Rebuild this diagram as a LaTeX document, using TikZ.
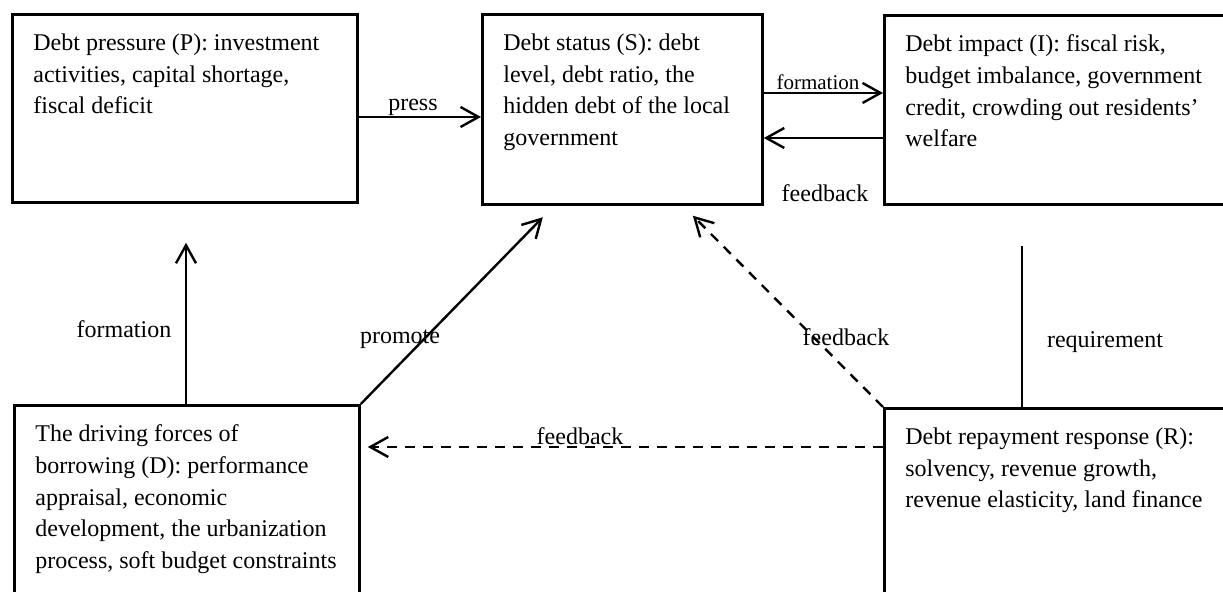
\documentclass[tikz,border=0pt]{standalone}
\usepackage{fontspec}
\setmainfont{Liberation Serif}
\usetikzlibrary{arrows.meta}

% box text: width, box height, lines
\newcommand{\boxtext}[3]{\parbox[t][\dimexpr#2-19.6pt\relax][t]{#1}{\raggedright\leftskip=10.5pt #3}}

\tikzset{
  block/.style={draw, line width=1.4pt, anchor=north west,
                inner xsep=0pt, inner ysep=9.8pt,
                font=\fontsize{12}{15.8}\selectfont},
  conn/.style={line width=1.2pt, -{Straight Barb[length=9pt,width=10pt]}},
  dconn/.style={conn, dash pattern=on 5pt off 4pt},
  lbl/.style={font=\fontsize{12}{14}\selectfont, anchor=base, inner sep=0pt},
}

\begin{document}
\begin{tikzpicture}[x=0.5pt, y=-0.5pt]
\useasboundingbox (0,0) rectangle (1223,592);
\clip (0,0) rectangle (1223,592);

% ===== BOXES =====
\node[block] (P) at (11,13) {\boxtext{172.5pt}{94pt}{Debt pressure (P): investment\\
  activities, capital shortage,\\fiscal deficit}};

\node[block] (S) at (481,13) {\boxtext{140pt}{95pt}{Debt status (S): debt\\
  level, debt ratio, the\\hidden debt of the local\\government}};

\node[block] (I) at (883,14) {\boxtext{180pt}{94.5pt}{Debt impact (I): fiscal risk,\\
  budget imbalance, government\\credit, crowding out residents’\\welfare}};

\node[block] (D) at (13,404) {\boxtext{172.5pt}{100pt}{The driving forces of\\
  borrowing (D): performance\\appraisal, economic\\development, the urbanization\\
  process, soft budget constraints}};

\node[block] (R) at (883,407) {\boxtext{180pt}{100pt}{Debt repayment response (R):\\
  solvency, revenue growth,\\revenue elasticity, land finance}};

% ===== CONNECTORS =====
\draw[conn] (P.east |- 0,117) -- (S.west |- 0,117);
\draw[conn] (S.east |- 0,93) -- (I.west |- 0,93);
\draw[conn] (I.west |- 0,138) -- (S.east |- 0,138);
\draw[conn, shorten >=19.5pt] (D.north -| 186,0) -- (P.south -| 186,0);
\draw[conn, shorten >=8pt] (D.north east) -- (S.south -| 554,0);
\draw[dconn, shorten >=7pt] (R.north west) -- (S.south -| 683,0);
\draw[dconn, shorten >=3.5pt] (R.west |- 0,447) -- (D.east |- 0,447);
\draw[line width=1.2pt, shorten >=20pt] (R.north -| 1022,0) -- (I.south -| 1022,0);

% ===== LABELS =====
\node[lbl] (lpress) at (413,111) {press};
\node[lbl, font=\fontsize{10.5}{12}\selectfont] (lform1) at (818,90) {formation};
\node[lbl] (lfb1) at (825,202) {feedback};
\node[lbl] (lform2) at (124,338) {formation};
\node[lbl] (lprom) at (400,344) {promote};
\node[lbl] (lfb2) at (846,346) {feedback};
\node[lbl] (lreq) at (1105,348) {requirement};
\node[lbl] (lfb3) at (580,445) {feedback};

\end{tikzpicture}
\end{document}
